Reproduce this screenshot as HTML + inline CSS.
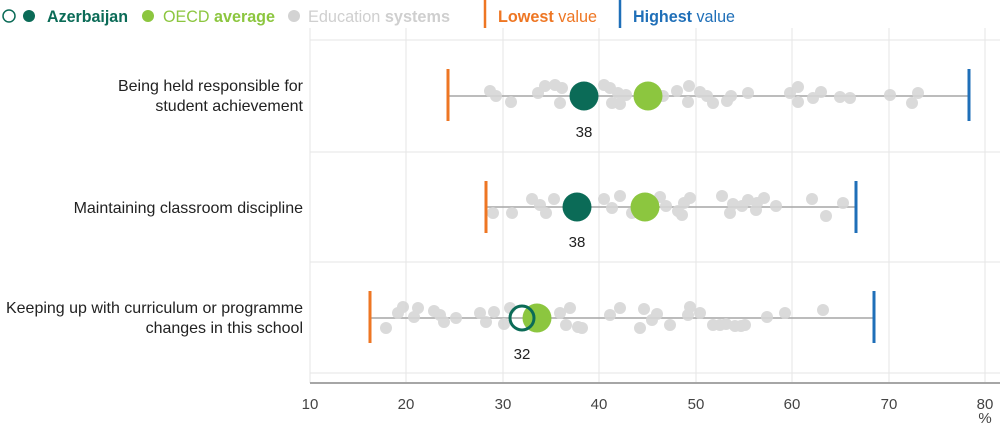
<!DOCTYPE html>
<html><head><meta charset="utf-8"><style>
body{margin:0;background:#fff;}
svg{display:block;font-family:"Liberation Sans Narrow","Liberation Sans",sans-serif;}
</style></head><body>
<svg width="1000" height="424" viewBox="0 0 1000 424" xmlns="http://www.w3.org/2000/svg">
<!-- legend -->
<circle cx="9" cy="16" r="6" fill="none" stroke="#0b6b57" stroke-width="1.5"/>
<circle cx="29" cy="16" r="6" fill="#0b6b57"/>
<text x="47" y="22" font-size="17" font-weight="bold" fill="#0b6b57" textLength="81" lengthAdjust="spacingAndGlyphs">Azerbaijan</text>
<circle cx="148" cy="16" r="6" fill="#8cc63f"/>
<text x="163" y="22" font-size="17" fill="#8cc63f" textLength="112" lengthAdjust="spacingAndGlyphs">OECD <tspan font-weight="bold">average</tspan></text>
<circle cx="294" cy="16" r="6" fill="#d3d3d3"/>
<text x="308" y="22" font-size="17" fill="#cfcfcf" textLength="142" lengthAdjust="spacingAndGlyphs">Education <tspan font-weight="bold">systems</tspan></text>
<line x1="485" y1="0" x2="485" y2="28" stroke="#ee7623" stroke-width="2.5"/>
<text x="498" y="22" font-size="17" fill="#ee7623" textLength="99" lengthAdjust="spacingAndGlyphs"><tspan font-weight="bold">Lowest</tspan> value</text>
<line x1="620" y1="0" x2="620" y2="28" stroke="#1f6fb8" stroke-width="2.5"/>
<text x="633" y="22" font-size="17" fill="#1f6fb8" textLength="102" lengthAdjust="spacingAndGlyphs"><tspan font-weight="bold">Highest</tspan> value</text>
<!-- grid -->
<g stroke="#e6e6e6" stroke-width="1">
<line x1="406" y1="28" x2="406" y2="383"/><line x1="503" y1="28" x2="503" y2="383"/>
<line x1="599" y1="28" x2="599" y2="383"/><line x1="696" y1="28" x2="696" y2="383"/>
<line x1="792" y1="28" x2="792" y2="383"/><line x1="889" y1="28" x2="889" y2="383"/>
<line x1="985" y1="28" x2="985" y2="383"/>
<line x1="310" y1="28" x2="310" y2="383"/>
<line x1="310" y1="40" x2="1000" y2="40"/><line x1="310" y1="152" x2="1000" y2="152"/>
<line x1="310" y1="262" x2="1000" y2="262"/><line x1="310" y1="373" x2="1000" y2="373"/>
</g>
<line x1="310" y1="383" x2="1000" y2="383" stroke="#a6a6a6" stroke-width="2"/>
<g font-size="15" fill="#444" text-anchor="middle">
<text x="310" y="409">10</text><text x="406" y="409">20</text><text x="503" y="409">30</text>
<text x="599" y="409">40</text><text x="696" y="409">50</text><text x="792" y="409">60</text>
<text x="889" y="409">70</text><text x="985" y="409">80</text><text x="985" y="423">%</text>
</g>
<!-- labels -->
<g font-size="16" fill="#222" text-anchor="end">
<text x="303" y="91">Being held responsible for</text>
<text x="303" y="111">student achievement</text>
<text x="303" y="213">Maintaining classroom discipline</text>
<text x="303" y="313">Keeping up with curriculum or programme</text>
<text x="303" y="333">changes in this school</text>
</g>
<!-- row1 -->
<line x1="448" y1="96" x2="968" y2="96" stroke="#a6a6a6" stroke-width="1.5"/>
<g fill="#d6d6d6" opacity="0.9">
<circle cx="490" cy="91" r="6"/><circle cx="496" cy="96" r="6"/><circle cx="511" cy="102" r="6"/>
<circle cx="538" cy="93" r="6"/><circle cx="545" cy="86" r="6"/><circle cx="555" cy="85" r="6"/><circle cx="562" cy="88" r="6"/><circle cx="560" cy="103" r="6"/>
<circle cx="604" cy="85" r="6"/><circle cx="610" cy="88" r="6"/><circle cx="612" cy="103" r="6"/><circle cx="618" cy="93" r="6"/><circle cx="620" cy="104" r="6"/><circle cx="626" cy="95" r="6"/>
<circle cx="663" cy="96" r="6"/><circle cx="677" cy="91" r="6"/><circle cx="689" cy="86" r="6"/><circle cx="688" cy="102" r="6"/><circle cx="700" cy="92" r="6"/><circle cx="707" cy="96" r="6"/><circle cx="713" cy="103" r="6"/><circle cx="727" cy="101" r="6"/><circle cx="731" cy="96" r="6"/><circle cx="748" cy="93" r="6"/>
<circle cx="790" cy="93" r="6"/><circle cx="798" cy="87" r="6"/><circle cx="798" cy="102" r="6"/><circle cx="813" cy="98" r="6"/><circle cx="821" cy="92" r="6"/><circle cx="840" cy="97" r="6"/><circle cx="850" cy="98" r="6"/><circle cx="890" cy="95" r="6"/><circle cx="912" cy="103" r="6"/><circle cx="918" cy="93" r="6"/>
</g>
<line x1="448" y1="69" x2="448" y2="121" stroke="#ee7623" stroke-width="3"/>
<line x1="969" y1="69" x2="969" y2="121" stroke="#1f6fb8" stroke-width="3"/>
<circle cx="584" cy="96" r="14.5" fill="#0b6b57"/>
<circle cx="648" cy="96" r="14.5" fill="#8cc63f"/>
<text x="584" y="137" font-size="15" fill="#222" text-anchor="middle">38</text>
<!-- row2 -->
<line x1="486" y1="207" x2="856" y2="207" stroke="#a6a6a6" stroke-width="1.5"/>
<g fill="#d6d6d6" opacity="0.9">
<circle cx="493" cy="213" r="6"/><circle cx="512" cy="213" r="6"/><circle cx="532" cy="199" r="6"/><circle cx="540" cy="205" r="6"/><circle cx="546" cy="213" r="6"/><circle cx="554" cy="199" r="6"/>
<circle cx="604" cy="199" r="6"/><circle cx="612" cy="208" r="6"/><circle cx="620" cy="196" r="6"/><circle cx="632" cy="213" r="6"/><circle cx="660" cy="197" r="6"/><circle cx="666" cy="206" r="6"/><circle cx="678" cy="211" r="6"/><circle cx="684" cy="203" r="6"/><circle cx="690" cy="198" r="6"/><circle cx="682" cy="215" r="6"/>
<circle cx="722" cy="196" r="6"/><circle cx="733" cy="204" r="6"/><circle cx="730" cy="213" r="6"/><circle cx="748" cy="200" r="6"/><circle cx="756" cy="210" r="6"/><circle cx="764" cy="198" r="6"/><circle cx="776" cy="206" r="6"/><circle cx="812" cy="199" r="6"/><circle cx="826" cy="216" r="6"/><circle cx="843" cy="203" r="6"/><circle cx="757" cy="203" r="6"/><circle cx="742" cy="206" r="6"/>
</g>
<line x1="486" y1="181" x2="486" y2="233" stroke="#ee7623" stroke-width="3"/>
<line x1="856" y1="181" x2="856" y2="233" stroke="#1f6fb8" stroke-width="3"/>
<circle cx="577" cy="207" r="14.5" fill="#0b6b57"/>
<circle cx="645" cy="207" r="14.5" fill="#8cc63f"/>
<text x="577" y="247" font-size="15" fill="#222" text-anchor="middle">38</text>
<!-- row3 -->
<line x1="371" y1="318" x2="874" y2="318" stroke="#a6a6a6" stroke-width="1.5"/>
<g fill="#d6d6d6" opacity="0.9">
<circle cx="386" cy="328" r="6"/><circle cx="398" cy="313" r="6"/><circle cx="403" cy="307" r="6"/><circle cx="414" cy="317" r="6"/><circle cx="418" cy="308" r="6"/><circle cx="434" cy="311" r="6"/><circle cx="440" cy="315" r="6"/><circle cx="444" cy="322" r="6"/><circle cx="456" cy="318" r="6"/>
<circle cx="480" cy="313" r="6"/><circle cx="486" cy="322" r="6"/><circle cx="494" cy="312" r="6"/><circle cx="504" cy="324" r="6"/><circle cx="510" cy="308" r="6"/>
<circle cx="560" cy="313" r="6"/><circle cx="566" cy="325" r="6"/><circle cx="570" cy="308" r="6"/><circle cx="578" cy="327" r="6"/><circle cx="582" cy="328" r="6"/>
<circle cx="610" cy="315" r="6"/><circle cx="620" cy="308" r="6"/><circle cx="640" cy="328" r="6"/><circle cx="644" cy="309" r="6"/><circle cx="652" cy="320" r="6"/><circle cx="657" cy="314" r="6"/><circle cx="670" cy="325" r="6"/>
<circle cx="688" cy="315" r="6"/><circle cx="690" cy="307" r="6"/><circle cx="700" cy="313" r="6"/><circle cx="713" cy="325" r="6"/><circle cx="720" cy="325" r="6"/><circle cx="726" cy="324" r="6"/><circle cx="735" cy="326" r="6"/><circle cx="741" cy="326" r="6"/><circle cx="745" cy="325" r="6"/><circle cx="767" cy="317" r="6"/><circle cx="785" cy="313" r="6"/><circle cx="823" cy="310" r="6"/>
</g>
<line x1="370" y1="291" x2="370" y2="343" stroke="#ee7623" stroke-width="3"/>
<line x1="874" y1="291" x2="874" y2="343" stroke="#1f6fb8" stroke-width="3"/>
<circle cx="537" cy="318" r="14.5" fill="#8cc63f"/>
<circle cx="522" cy="318" r="12" fill="none" stroke="#0b6b57" stroke-width="3"/>
<text x="522" y="359" font-size="15" fill="#222" text-anchor="middle">32</text>
</svg>
</body></html>
